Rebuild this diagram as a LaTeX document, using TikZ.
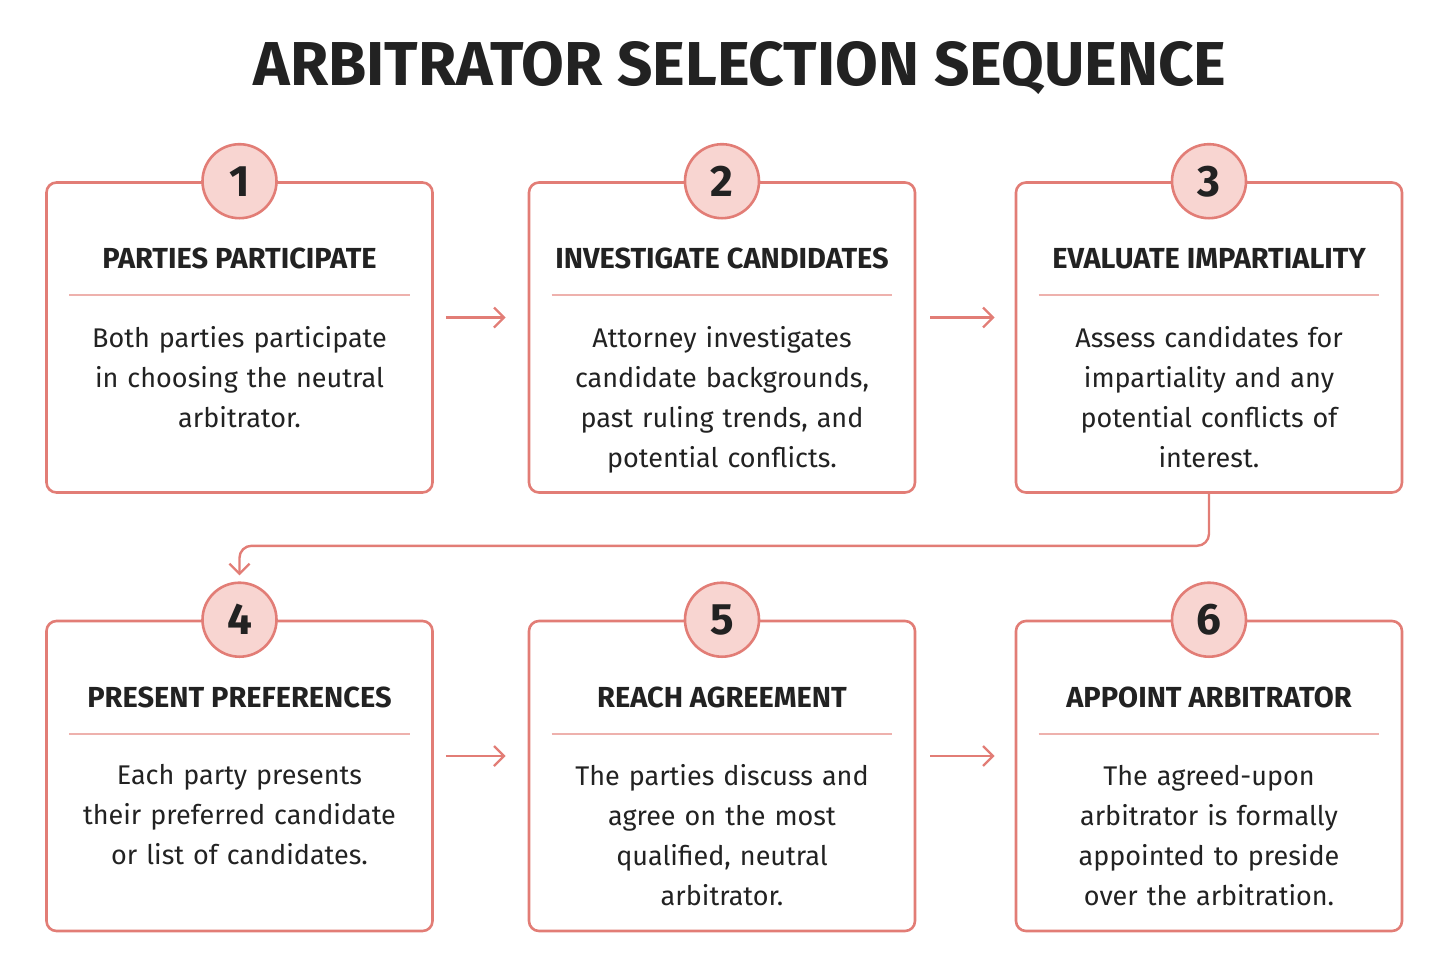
\documentclass[tikz,border=0pt]{standalone}
\usepackage{fontspec}
\setmainfont{Fira Sans}
\usetikzlibrary{positioning,arrows.meta}
\definecolor{edge}{HTML}{E27D76}
\definecolor{disc}{HTML}{F8D5D1}
\definecolor{ink}{HTML}{222222}
\tikzset{
  box/.style={draw=edge, line width=1.3pt, rounded corners=5pt, fill=white,
    minimum width=193pt, minimum height=155pt},
  num/.style={circle, draw=edge, line width=1.3pt, fill=disc, minimum size=37pt,
    inner sep=0pt, font=\fontsize{22}{22}\selectfont\bfseries, text=ink},
  head/.style={font=\fontsize{14.5}{16}\selectfont\bfseries, text=ink},
  body/.style={text width=170pt, align=center, font=\fontsize{13.5}{20}\selectfont, text=ink},
  flow/.style={draw=edge, line width=1.2pt, -{Straight Barb[length=5pt,width=10pt]}},
}
\begin{document}
\begin{tikzpicture}[x=0.5pt, y=-0.5pt]
\useasboundingbox (0,0) rectangle (1450,976);
\node[font=\fontsize{31}{33}\selectfont\bfseries, text=ink] (title) at (740,68) {ARBITRATOR SELECTION SEQUENCE};

% FIRST ROW
\node[box] (b1) at (239.5,337.5) {};
\node[box] (b2) at (722,337.5) {};
\node[box] (b3) at (1209,337.5) {};
% SECOND ROW
\node[box] (b4) at (239.5,776) {};
\node[box] (b5) at (722,776) {};
\node[box] (b6) at (1209,776) {};

\foreach \b/\n/\t/\s in {
  b1/1/PARTIES PARTICIPATE/{Both parties participate\\in choosing the neutral\\arbitrator.},
  b2/2/INVESTIGATE CANDIDATES/{Attorney investigates\\candidate backgrounds,\\past ruling trends, and\\potential conflicts.},
  b3/3/EVALUATE IMPARTIALITY/{Assess candidates for\\impartiality and any\\potential conflicts of\\interest.},
  b4/4/PRESENT PREFERENCES/{Each party presents\\their preferred candidate\\or list of candidates.},
  b5/5/REACH AGREEMENT/{The parties discuss and\\agree on the most\\qualified, neutral\\arbitrator.},
  b6/6/APPOINT ARBITRATOR/{The agreed-upon\\arbitrator is formally\\appointed to preside\\over the arbitration.}} {
  \node[num] (n\n) at (\b.north) {\n};
  \node[head, below=30pt of \b.north] (h\n) {\t};
  \draw[edge!60, line width=0.8pt] ([xshift=12pt,yshift=-57pt]\b.north west) -- ([xshift=-12pt,yshift=-57pt]\b.north east);
  \node[body, anchor=north] (t\n) at ([yshift=-69pt]\b.north) {\s};
}

\draw[flow] ([xshift=6pt,yshift=10pt]b1.east) -- ([xshift=-11pt,yshift=10pt]b2.west);
\draw[flow] ([xshift=7pt,yshift=10pt]b2.east) -- ([xshift=-10pt,yshift=10pt]b3.west);
\draw[flow] ([xshift=6pt,yshift=10pt]b4.east) -- ([xshift=-11pt,yshift=10pt]b5.west);
\draw[flow] ([xshift=7pt,yshift=10pt]b5.east) -- ([xshift=-10pt,yshift=10pt]b6.west);
\draw[flow, rounded corners=6pt] (b3.south) -- ++(0,52) -| ([yshift=3pt]n4.north);
\end{tikzpicture}
\end{document}
